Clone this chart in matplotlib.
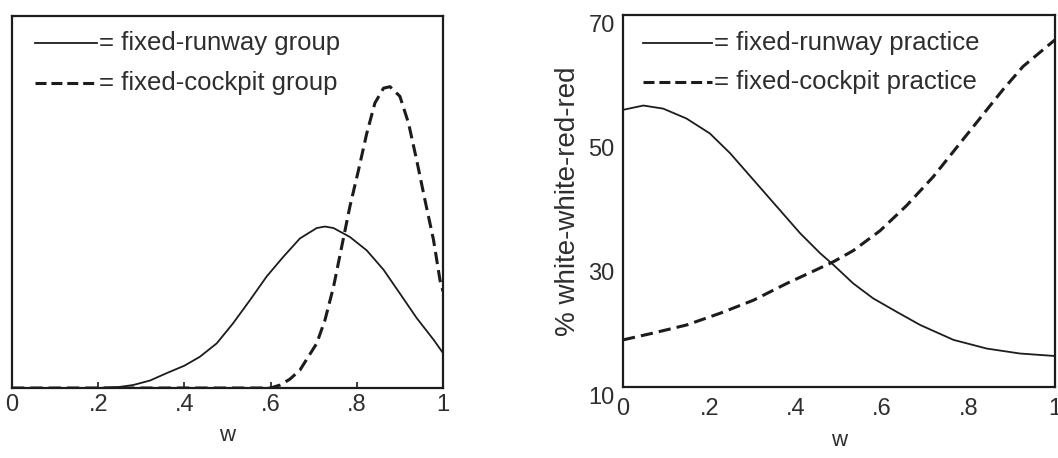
import matplotlib
matplotlib.use("Agg")
import matplotlib.pyplot as plt
import matplotlib.transforms as mtransforms

plt.rcParams['font.family'] = ['Liberation Sans', 'DejaVu Sans']

# Left panel: densities of w by group
w_runway_grp = [0.0, 0.20, 0.25, 0.281, 0.32, 0.359, 0.40, 0.436, 0.475, 0.513, 0.552, 0.591,
                0.629, 0.668, 0.707, 0.726, 0.746, 0.784, 0.823, 0.862, 0.900, 0.939,
                0.978, 1.0]
d_runway_grp = [0.0, 0.0, 0.015, 0.04, 0.10, 0.20, 0.30, 0.42, 0.60, 0.87, 1.18, 1.50,
                1.76, 2.01, 2.15, 2.17, 2.15, 2.03, 1.85, 1.59, 1.27, 0.94,
                0.65, 0.47]
w_cockpit_grp = [0.0, 0.2, 0.4, 0.6, 0.622, 0.645, 0.668, 0.707, 0.726, 0.746, 0.765,
                 0.784, 0.804, 0.823, 0.842, 0.862, 0.877, 0.900, 0.920, 0.939,
                 0.958, 0.978, 0.993, 1.0]
d_cockpit_grp = [0.0, 0.0, 0.0, 0.0, 0.04, 0.12, 0.24, 0.60, 0.91, 1.36, 1.90,
                 2.44, 2.93, 3.42, 3.83, 4.03, 4.05, 3.92, 3.56, 3.06,
                 2.53, 1.99, 1.45, 1.30]

# Right panel: % white-white-red-red by practice
w_runway_pr = [0.0, 0.047, 0.093, 0.147, 0.201, 0.248, 0.302, 0.356, 0.410, 0.456, 0.487,
               0.533, 0.579, 0.634, 0.688, 0.765, 0.842, 0.919, 1.0]
p_runway_pr = [54.7, 55.4, 54.9, 53.3, 50.9, 47.7, 43.4, 39.1, 34.8, 31.6, 29.7,
               26.7, 24.3, 22.1, 20.0, 17.6, 16.2, 15.4, 15.0]
w_cockpit_pr = [0.0, 0.070, 0.147, 0.225, 0.302, 0.379, 0.441, 0.487, 0.533, 0.595,
                0.657, 0.718, 0.780, 0.842, 0.88, 0.926, 1.0]
p_cockpit_pr = [17.6, 18.7, 20.0, 21.9, 24.0, 26.7, 28.7, 30.2, 32.0, 35.2,
                39.3, 43.9, 49.3, 54.7, 58.0, 61.7, 66.0]

x_ticks = [0, 0.2, 0.4, 0.6, 0.8, 1.0]
x_ticklabels = ["0", ".2", ".4", ".6", ".8", "1"]
y_ticks_right = [10, 30, 50, 70]

ink = "#1c1c1c"
text_col = "#2e2e2e"
fs_tick = 17
fs_key = 18.5
fs_lab = 20

fig = plt.figure(figsize=(10.58, 4.58), dpi=100)
W, H = 1058, 458
ax1 = fig.add_axes([12 / W, 1 - 388 / H, 431 / W, 372 / H])
ax2 = fig.add_axes([623 / W, 1 - 387 / H, 432 / W, 372 / H])

dash = (0, (4.0, 2.0))
lw_solid = 1.3
lw_dash = 2.2

ax1.plot(w_runway_grp, d_runway_grp, color=ink, lw=lw_solid)
ax1.plot(w_cockpit_grp, d_cockpit_grp, color=ink, lw=lw_dash, linestyle=dash)
ax1.set_xlim(0, 1)
ax1.set_ylim(0, 5)
ax1.set_yticks([])
ax1.set_xticks(x_ticks)
ax1.set_xticklabels(x_ticklabels)
ax1.tick_params(axis='x', direction='in', length=4, width=1.2, color=ink,
                labelsize=fs_tick, labelcolor=text_col, pad=4)

ax2.plot(w_runway_pr, p_runway_pr, color=ink, lw=lw_solid)
ax2.plot(w_cockpit_pr, p_cockpit_pr, color=ink, lw=lw_dash, linestyle=dash)
ax2.set_xlim(0, 1)
ax2.set_ylim(10, 70)
ax2.set_xticks(x_ticks)
ax2.set_xticklabels(x_ticklabels)
ax2.set_yticks(y_ticks_right)
ax2.tick_params(axis='both', length=0, labelsize=fs_tick, labelcolor=text_col)
ax2.tick_params(axis='x', pad=8)
ax2.tick_params(axis='y', pad=6)
shift = mtransforms.ScaledTranslation(0, -0.09, fig.dpi_scale_trans)
for lab in ax2.get_yticklabels():
    lab.set_transform(lab.get_transform() + shift)
ax2.set_ylabel("% white-white-red-red", fontsize=fs_lab, color=text_col, labelpad=5)

for ax in (ax1, ax2):
    for sp in ax.spines.values():
        sp.set_linewidth(1.6)
        sp.set_color(ink)
    ax.set_xlabel("w", fontsize=16, color=text_col, labelpad=7)

# Keys drawn inside each panel
def key(ax, x0, x1, y, style, lw, label):
    ax.plot([x0, x1], [y, y], transform=ax.transAxes, color=ink, lw=lw,
            linestyle=style, clip_on=False)
    ax.text(x1 + 0.004, y, "= " + label, transform=ax.transAxes, fontsize=fs_key,
            color=text_col, va='center', ha='left')

key(ax1, 23 / 431, 85 / 431, 1 - 27 / 372, '-', lw_solid, "fixed-runway group")
key(ax1, 23 / 431, 85 / 431, 1 - 67 / 372, (0, (3.6, 1.6)), lw_dash, "fixed-cockpit group")
key(ax2, 20 / 432, 89 / 432, 1 - 28 / 372, '-', lw_solid, "fixed-runway practice")
key(ax2, 20 / 432, 89 / 432, 1 - 67 / 372, (0, (3.6, 1.6)), lw_dash, "fixed-cockpit practice")

fig.savefig("out.png", dpi=100, facecolor="white")
